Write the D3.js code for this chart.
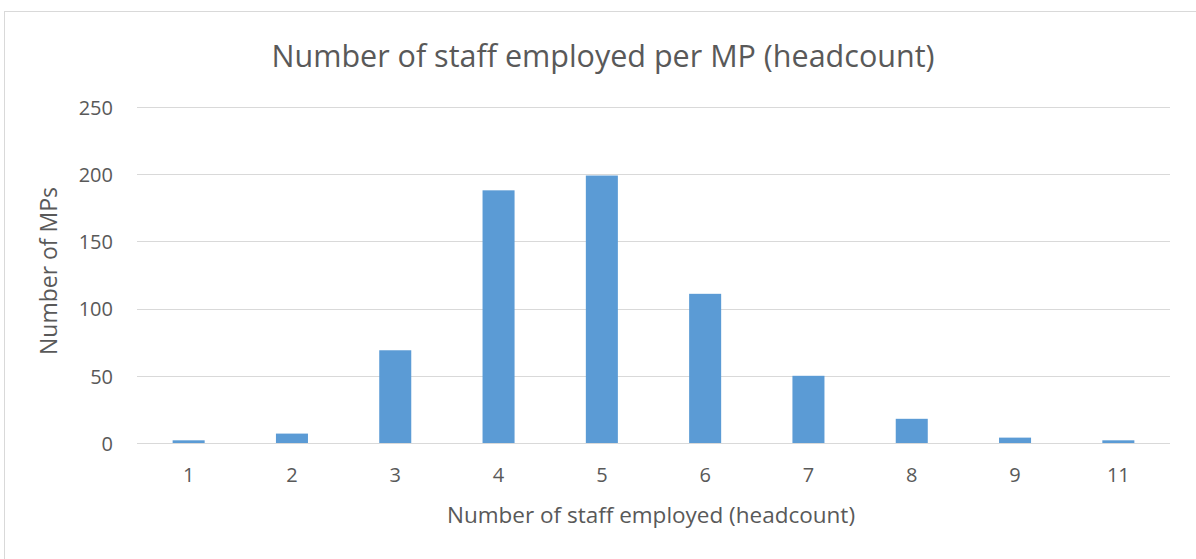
<!DOCTYPE html>
<html>
<head>
<meta charset="utf-8">
<script src="https://cdn.jsdelivr.net/npm/d3@7"></script>
<style>
  html, body { margin: 0; padding: 0; background: #fff; }
  svg { display: block; }
  text { font-family: "Open Sans", "Noto Sans", sans-serif; fill: #595959; }
</style>
</head>
<body>
<svg id="chart" width="1196" height="559"></svg>
<script>
// Headcount of staff per MP and how many MPs fall in each group
const categories = ["1", "2", "3", "4", "5", "6", "7", "8", "9", "11"];
const mpCounts = [2, 7, 69, 188, 199, 111, 50, 18, 4, 2];
const yTicks = [0, 50, 100, 150, 200, 250];

const svg = d3.select("#chart");
const margin = { left: 137, right: 1170, top: 107, bottom: 443 };
const fontStack = '"Open Sans", "Noto Sans", sans-serif';

// Outer chart frame
svg.append("rect")
  .attr("x", 4.5).attr("y", 11.5)
  .attr("width", 1300).attr("height", 700)
  .attr("fill", "none").attr("stroke", "#d9d9d9").attr("stroke-width", 1);

const x = d3.scaleBand()
  .domain(categories)
  .range([margin.left, margin.right])
  .paddingInner(0.69).paddingOuter(0.345);

const y = d3.scaleLinear()
  .domain([0, 250])
  .range([margin.bottom, margin.top]);

// Horizontal gridlines
svg.append("g")
  .selectAll("line")
  .data(yTicks)
  .join("line")
  .attr("x1", margin.left).attr("x2", margin.right)
  .attr("y1", d => Math.round(y(d)) + 0.5).attr("y2", d => Math.round(y(d)) + 0.5)
  .attr("stroke", "#d9d9d9").attr("stroke-width", 1);

// Y axis labels
const yAxis = d3.axisLeft(y).tickValues(yTicks).tickSize(0).tickPadding(0);
const yg = svg.append("g").attr("transform", `translate(${margin.left - 24},0)`).call(yAxis);
yg.select(".domain").remove();
yg.selectAll("text").attr("font-size", 20).attr("fill", "#595959")
  .attr("dy", "0.36em")
  .style("font-family", fontStack);

// Bars
svg.append("g")
  .selectAll("rect")
  .data(categories.map((c, i) => ({ c, v: mpCounts[i] })))
  .join("rect")
  .attr("x", d => x(d.c))
  .attr("width", x.bandwidth())
  .attr("y", d => y(d.v))
  .attr("height", d => y(0) - y(d.v))
  .attr("fill", "#5b9bd5");

// Baseline drawn over the bars
svg.append("line")
  .attr("x1", margin.left).attr("x2", margin.right)
  .attr("y1", Math.round(y(0)) + 0.5).attr("y2", Math.round(y(0)) + 0.5)
  .attr("stroke", "#d9d9d9").attr("stroke-width", 1);

// X axis labels
const xAxis = d3.axisBottom(x).tickSize(0).tickPadding(0);
const xg = svg.append("g").attr("transform", `translate(0,${margin.bottom + 39})`).call(xAxis);
xg.select(".domain").remove();
xg.selectAll("text").attr("font-size", 20).attr("fill", "#595959")
  .attr("y", 0).attr("dy", 0)
  .style("font-family", fontStack);

// Title
svg.append("text")
  .attr("x", 603).attr("y", 67)
  .attr("text-anchor", "middle")
  .attr("font-size", 30.5)
  .text("Number of staff employed per MP (headcount)");

// Axis titles
svg.append("text")
  .attr("x", 651).attr("y", 523)
  .attr("text-anchor", "middle")
  .attr("font-size", 22.5)
  .text("Number of staff employed (headcount)");

svg.append("text")
  .attr("transform", "translate(57,271) rotate(-90)")
  .attr("text-anchor", "middle")
  .attr("font-size", 23)
  .text("Number of MPs");
</script>
</body>
</html>
